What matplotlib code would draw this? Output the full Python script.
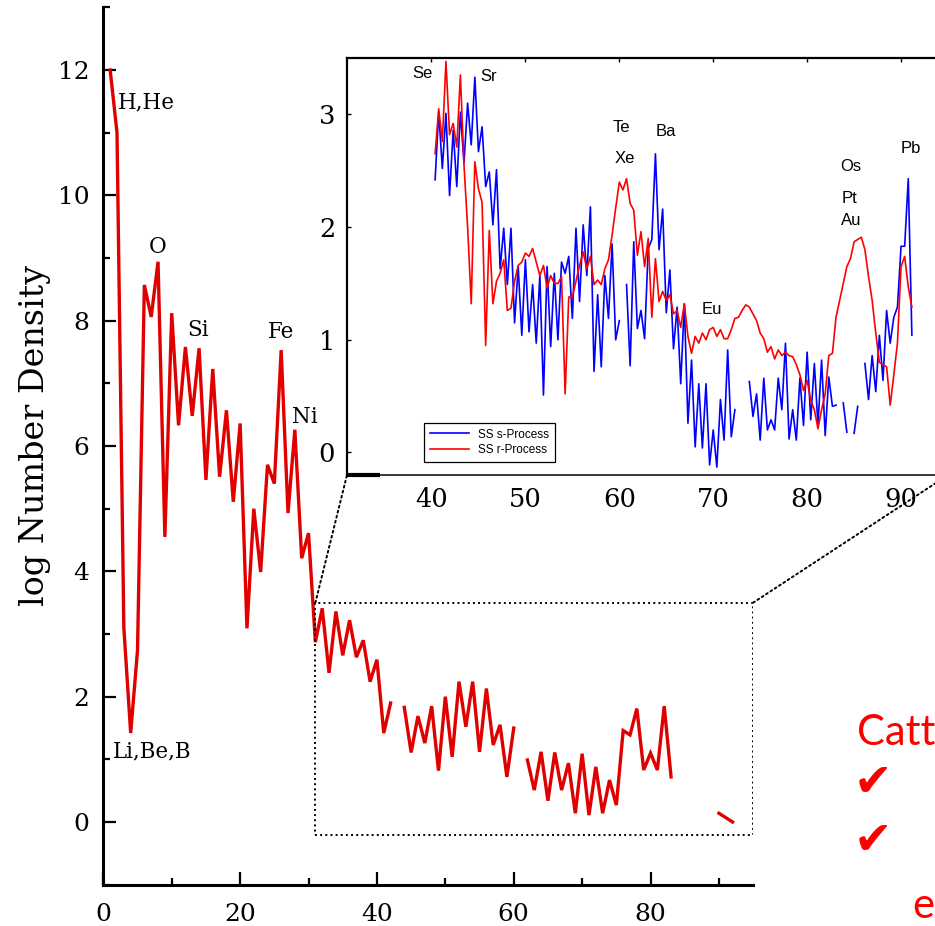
import numpy as np
import matplotlib
matplotlib.use('Agg')
from matplotlib import pyplot as plt
from matplotlib.patches import Rectangle, ConnectionPatch

nan = np.nan

# solar system abundances, log N (H = 12), by atomic number (nan = gap in the curve)
main_z = list(range(1, 85)) + [90, 92]
main_logn = [12.0, 11.0, 3.1, 1.42, 2.74, 8.57, 8.06, 8.94, 4.55, 8.12,
             6.33, 7.58, 6.48, 7.56, 5.46, 7.23, 5.51, 6.57, 5.11, 6.36,
             3.09, 5.00, 3.99, 5.70, 5.40, 7.53, 4.93, 6.26, 4.21, 4.61,
             2.87, 3.41, 2.38, 3.36, 2.66, 3.22, 2.63, 2.90, 2.24, 2.59,
             1.42, 1.90, nan, 1.83, 1.11, 1.69, 1.26, 1.85, 0.82, 2.00,
             1.04, 2.24, 1.52, 2.24, 1.12, 2.13, 1.23, 1.55, 0.72, 1.50,
             nan, 0.99, 0.51, 1.12, 0.34, 1.11, 0.51, 0.94, 0.14, 1.09,
             0.11, 0.88, 0.14, 0.67, 0.27, 1.46, 1.39, 1.81, 0.83, 1.10,
             0.83, 1.85, 0.72, nan, 0.14, 0.0]

# inset: solar s- and r-process abundances by mass number
mass = list(range(77, 210))
s_process = [2.42, 3.02, 2.52, 3.01, 2.28, 2.86, 2.36, 3.02, 2.57, 3.10,
             2.73, 3.33, 2.67, 2.89, 2.36, 2.49, 2.02, 2.51, 1.63, 1.99,
             1.49, 1.99, 1.15, 1.65, 1.04, 1.71, 1.07, 1.49, 0.97, 1.57,
             0.51, 1.65, 0.94, 1.59, 1.00, 1.69, 1.59, 1.74, 1.19, 1.99,
             1.34, 2.02, 1.57, 2.18, 0.72, 1.40, 0.76, 1.57, 1.19, 1.85,
             1.00, 1.17, nan, 1.49, 0.77, 1.87, 1.10, 1.26, 1.01, 1.81,
             1.89, 2.65, 1.80, 2.16, 1.24, 1.62, 0.92, 1.29, 0.61, 1.32,
             0.26, 0.82, 0.05, 0.61, 0.04, 0.61, -0.11, 0.20, -0.13, 0.47,
             0.11, 0.91, 0.14, 0.38, nan, nan, nan, 0.63, 0.32, 0.52,
             0.11, 0.66, 0.20, 0.29, 0.20, 0.66, 0.38, 0.97, 0.12, 0.38,
             0.11, 0.66, 0.24, 0.89, 0.29, 0.79, 0.24, 0.82, 0.15, 0.67,
             0.41, 0.42, nan, 0.44, 0.18, nan, 0.17, 0.41, nan, 0.79,
             0.47, 0.86, 0.54, 1.04, 0.64, 1.26, 0.97, 1.20, 1.29, 1.83,
             1.83, 2.43, 1.04]
r_process = [2.65, 3.05, 2.76, 3.47, 2.82, 2.92, 2.71, 3.35, 2.55, 2.00,
             1.32, 2.58, 2.34, 2.22, 0.95, 1.97, 1.32, 1.52, 1.59, 1.71,
             1.26, 1.28, 1.52, 1.66, 1.69, 1.77, 1.74, 1.81, 1.69, 1.57,
             1.66, 1.46, 1.57, 1.50, 1.50, 1.56, 0.52, 1.38, 1.38, 1.52,
             1.66, 1.78, 1.63, 1.74, 1.49, 1.53, 1.49, 1.63, 1.71, 1.93,
             2.17, 2.40, 2.33, 2.43, 2.21, 2.15, 1.75, 1.96, 1.65, 1.90,
             1.20, 1.72, 1.34, 1.43, 1.35, 1.40, 1.23, 1.26, 1.11, 1.32,
             1.03, 0.88, 1.03, 0.97, 1.06, 1.00, 1.09, 1.11, 1.03, 1.09,
             1.01, 1.01, 1.09, 1.19, 1.20, 1.26, 1.31, 1.29, 1.23, 1.17,
             1.06, 1.01, 0.89, 0.94, 0.83, 0.91, 0.86, 0.89, 0.86, 0.85,
             0.78, 0.69, 0.55, 0.64, 0.46, 0.38, 0.21, 0.38, 0.52, 0.86,
             0.88, 1.20, 1.35, 1.50, 1.65, 1.72, 1.87, 1.89, 1.91, 1.80,
             1.56, 1.35, 1.06, 0.80, 0.78, 0.76, 0.42, 0.69, 0.97, 1.65,
             1.74, 1.47, 1.29]

inset_tick_labels = ['40', '50', '60', '70', '80', '90']
inset_tick_mass = [76, 102, 128, 154, 180, 206]

serif = 'DejaVu Serif'
sans = 'Liberation Sans'

fig = plt.figure(figsize=(9.35, 9.26), dpi=100)

# main panel
ax = fig.add_axes([0.1105, 0.0446, 0.695, 0.9475])
ax.plot(main_z, main_logn, color='#e00000', lw=2.4, solid_joinstyle='miter')
ax.set_xlim(0, 95)
ax.set_ylim(-1, 13)
ax.spines['top'].set_visible(False)
ax.spines['right'].set_visible(False)
for s in ['left', 'bottom']:
    ax.spines[s].set_linewidth(2.2)
ax.set_xticks([0, 20, 40, 60, 80])
ax.set_xticks([10, 30, 50, 70, 90], minor=True)
ax.set_yticks([0, 2, 4, 6, 8, 10, 12])
ax.set_yticks([-1, 1, 3, 5, 7, 9, 11, 13], minor=True)
ax.tick_params(which='major', direction='in', length=9.5, width=1.6)
ax.tick_params(which='minor', direction='in', length=5, width=1.6)
ax.tick_params(axis='x', which='both', pad=13)
ax.tick_params(axis='y', which='both', pad=10)
for lab in ax.get_xticklabels() + ax.get_yticklabels():
    lab.set_fontfamily(serif)
    lab.set_fontsize(18)
ax.set_ylabel('log Number Density', fontfamily=serif, fontsize=24, va='center')
ax.yaxis.set_label_coords(-0.105, 0.512)

txt = dict(fontfamily=serif, fontsize=15.5, va='center')
ax.text(2.15, 11.49, 'H,He', ha='left', **txt)
ax.text(1.42, 1.12, 'Li,Be,B', ha='left', **txt)
ax.text(8.0, 9.17, 'O', ha='center', **txt)
ax.text(13.85, 7.85, 'Si', ha='center', **txt)
ax.text(25.98, 7.82, 'Fe', ha='center', **txt)
ax.text(29.5, 6.46, 'Ni', ha='center', **txt)

# zoom box shown in the main panel
box_x0, box_x1, box_y0, box_y1 = 31, 95, -0.2, 3.5
ax.add_patch(Rectangle((box_x0, box_y0), box_x1 - box_x0, box_y1 - box_y0,
                       fill=False, ls=':', lw=1.4, color='black', zorder=3))

# inset panel
axin = fig.add_axes([0.3711, 0.487, 0.6428, 0.4503])
axin.set_facecolor('white')
axin.plot(mass, s_process, color='#0000ff', lw=1.2, label='SS s-Process')
axin.plot(mass, r_process, color='#ff0000', lw=1.2, label='SS r-Process')
axin.set_xlim(52.6, 219.0)
axin.set_ylim(-0.2, 3.5)
axin.set_xticks(inset_tick_mass)
axin.set_xticklabels(inset_tick_labels)
axin.set_yticks([0, 1, 2, 3])
axin.tick_params(axis='x', direction='in', top=True, bottom=False,
                 labelbottom=True, length=3, width=1, pad=8.5)
axin.tick_params(axis='y', direction='in', length=3, width=1, pad=8.5)
for lab in axin.get_xticklabels() + axin.get_yticklabels():
    lab.set_fontfamily(serif)
    lab.set_fontsize(18.5)
axin.spines['left'].set_linewidth(1.6)
axin.spines['top'].set_linewidth(1.6)
axin.spines['bottom'].set_linewidth(1.1)
axin.plot([0, 0.055], [0, 0], transform=axin.transAxes, color='black',
          lw=3, clip_on=False, solid_capstyle='butt')

leg = axin.legend(loc='lower left', bbox_to_anchor=(0.118, 0.017),
                  prop={'family': sans, 'size': 8.5}, frameon=True,
                  fancybox=False, edgecolor='black', framealpha=1,
                  handlelength=3.3, borderpad=0.5, labelspacing=0.3)
leg.get_frame().set_linewidth(0.9)

itxt = dict(fontfamily=sans, fontsize=12, ha='center', va='center')
axin.text(73.6, 3.36, 'Se', **itxt)
axin.text(91.9, 3.34, 'Sr', **itxt)
axin.text(128.7, 2.88, 'Te', **itxt)
axin.text(129.6, 2.61, 'Xe', **itxt)
axin.text(140.9, 2.85, 'Ba', **itxt)
axin.text(153.7, 1.27, 'Eu', **itxt)
axin.text(192.2, 2.54, 'Os', **itxt)
axin.text(191.7, 2.25, 'Pt', **itxt)
axin.text(192.2, 2.06, 'Au', **itxt)
axin.text(208.8, 2.70, 'Pb', **itxt)

# dotted connectors from the zoom box to the inset corners
for bx, ix in [(box_x0, 0), (box_x1, 1)]:
    con = ConnectionPatch(xyA=(bx, box_y1), coordsA=ax.transData,
                          xyB=(ix, 0), coordsB=axin.transAxes,
                          ls=':', lw=1.4, color='black')
    fig.add_artist(con)

# red slide text at the right edge
red = '#ff0000'
fig.text(857 / 935, 1 - 745 / 926, 'Catt', color=red, fontsize=30,
         fontfamily='Lato', ha='left', va='baseline')
fig.text(873 / 935, 1 - 784 / 926, '\u2714', color=red, fontsize=33,
         fontfamily='DejaVu Sans', ha='center', va='center')
fig.text(873 / 935, 1 - 842 / 926, '\u2714', color=red, fontsize=33,
         fontfamily='DejaVu Sans', ha='center', va='center')
fig.text(912 / 935, 1 - 918 / 926, 'e', color=red, fontsize=30,
         fontfamily='Lato', ha='left', va='baseline')

fig.savefig('out.png', dpi=100)
